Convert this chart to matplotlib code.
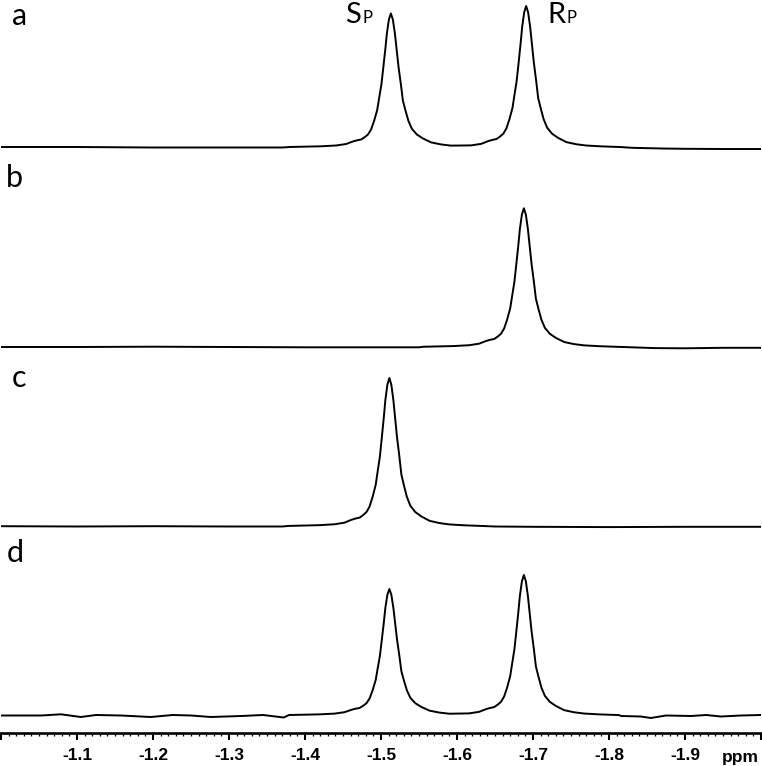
import numpy as np
import matplotlib.pyplot as plt
from matplotlib.ticker import MultipleLocator

plt.rcParams['font.family'] = ['Lato', 'DejaVu Sans']

# 峰形：从 a 谱的 S 峰读出（相对峰位的 ppm 偏移，相对高度）
shape_dppm = np.array([0.132, 0.092, 0.072, 0.059, 0.050, 0.045, 0.039, 0.034,
                       0.030, 0.026, 0.022, 0.018, 0.016, 0.0125, 0.0099, 0.0072,
                       0.0053, 0.0026, 0.0, -0.0026, -0.0053, -0.0101, -0.0132,
                       -0.0158, -0.019, -0.023, -0.0276, -0.034, -0.042, -0.053,
                       -0.066, -0.079, -0.099, -0.125])
shape_rel = np.array([0.004, 0.009, 0.015, 0.026, 0.045, 0.053, 0.060, 0.079,
                      0.098, 0.135, 0.20, 0.28, 0.35, 0.47, 0.60, 0.74,
                      0.85, 0.955, 1.0, 0.955, 0.85, 0.60, 0.47,
                      0.35, 0.28, 0.20, 0.14, 0.098, 0.068, 0.038,
                      0.023, 0.014, 0.008, 0.003])

# 各谱的峰位 (ppm) 与峰高
a_peaks, a_heights = [-1.513, -1.691], [134, 141.5]
b_peaks, b_heights = [-1.688], [139]
c_peaks, c_heights = [-1.511], [148.5]
d_peaks, d_heights = [-1.511, -1.688], [126.5, 140.5]

# 基线起伏
a_base_ppm = [-1.0, -1.1, -1.2, -1.3, -1.37, -1.83, -1.87, -1.9, -1.95, -2.0]
a_base_dy = [0.5, 0.5, 0.0, 0.0, 0.0, -0.3, -1.0, -1.3, -1.5, -1.5]
b_base_ppm = [-1.0, -1.1, -1.2, -1.3, -1.4, -1.5, -1.55, -1.83, -1.86, -1.9, -1.95, -2.0]
b_base_dy = [0.3, 0.3, 0.6, 0.3, 0.0, 0.0, 0.0, 0.0, -0.8, -1.0, -0.5, -0.5]
c_base_ppm = [-1.0, -1.1, -1.2, -1.3, -1.37, -1.65, -1.7, -1.8, -1.9, -2.0]
c_base_dy = [0.3, 0.0, 0.3, 0.0, 0.0, 0.0, -0.3, -0.6, -0.3, -0.3]
d_base_ppm = [-1.000, -1.053, -1.079, -1.105, -1.125, -1.158, -1.197, -1.226,
              -1.250, -1.276, -1.316, -1.345, -1.372, -1.816, -1.842,
              -1.855, -1.875, -1.908, -1.928, -1.947, -1.974, -2.000]
d_base_dy = [0.0, 0.0, 1.2, -1.5, 0.5, 0.0, -1.5, 0.5,
             0.0, -1.5, -0.5, 0.5, -2.0, -0.5, -1.0,
             -2.5, 0.0, -0.5, 0.5, -1.0, 0.0, 0.5]

tick_vals = [-1.0, -1.1, -1.2, -1.3, -1.4, -1.5, -1.6, -1.7, -1.8, -1.9, -2.0]
tick_labels = ['', '-1.1', '-1.2', '-1.3', '-1.4', '-1.5', '-1.6', '-1.7', '-1.8', '-1.9', '']


def build_trace(peaks, heights, base_ppm, base_dy):
    xs, ys = [], []
    mids = [(p + q) / 2 for p, q in zip(peaks[:-1], peaks[1:])]
    for i, (c, h) in enumerate(zip(peaks, heights)):
        x = c + shape_dppm
        y = h * shape_rel
        keep = np.ones(len(x), bool)
        if i > 0:
            keep &= x < mids[i - 1]
        if i < len(peaks) - 1:
            keep &= x > mids[i]
        xs.append(x[keep])
        ys.append(y[keep])
    lo = min(peaks) + shape_dppm.min()
    hi = max(peaks) + shape_dppm.max()
    bx = np.array(base_ppm)
    by = np.array(base_dy)
    out = (bx > hi) | (bx < lo)
    xs.append(bx[out])
    ys.append(by[out])
    x = np.concatenate(xs)
    y = np.concatenate(ys)
    order = np.argsort(-x)
    return x[order], y[order]


fig = plt.figure(figsize=(7.62, 7.66), dpi=100)
ax = fig.add_axes([1 / 762, 33 / 766, 760 / 762, 733 / 766])

traces = [(a_peaks, a_heights, a_base_ppm, a_base_dy, 585.5),
          (b_peaks, b_heights, b_base_ppm, b_base_dy, 385.7),
          (c_peaks, c_heights, c_base_ppm, c_base_dy, 206.5),
          (d_peaks, d_heights, d_base_ppm, d_base_dy, 17.5)]
for peaks, heights, bp, bd, off in traces:
    x, y = build_trace(peaks, heights, bp, bd)
    ax.plot(x, y + off, color='black', lw=1.4)

ax.set_xlim(-1.0, -2.0)
ax.set_ylim(0, 733)
for s in ['left', 'right', 'top']:
    ax.spines[s].set_visible(False)
ax.spines['bottom'].set_linewidth(1.9)
ax.set_yticks([])
ax.set_xticks(tick_vals)
ax.set_xticklabels(tick_labels, fontfamily='Liberation Sans', fontweight='bold', fontsize=12.5)
ax.xaxis.set_minor_locator(MultipleLocator(0.01))
ax.tick_params(axis='x', which='major', direction='out', length=5, width=1.5, pad=6)
ax.tick_params(axis='x', which='minor', direction='out', length=2.2, width=0.9)

fig.text(740 / 762, 1 - 762 / 766, 'ppm', fontfamily='Liberation Sans', fontweight='bold',
         fontsize=12.5, ha='center', va='baseline')

# 谱图字母
for lab, x, y in [('a', 12, 25), ('b', 6, 187), ('c', 12, 387), ('d', 7, 562)]:
    fig.text(x / 762, 1 - y / 766, lab, fontsize=22, ha='left', va='baseline')

# S_P / R_P
fig.text(345 / 762, 1 - 23 / 766, 'S', fontsize=21, ha='left', va='baseline')
fig.text(363 / 762, 1 - 23 / 766, 'P', fontsize=12, ha='left', va='baseline')
fig.text(547 / 762, 1 - 23 / 766, 'R', fontsize=21, ha='left', va='baseline')
fig.text(566 / 762, 1 - 23 / 766, 'P', fontsize=12, ha='left', va='baseline')

fig.savefig('out.png', dpi=100)
